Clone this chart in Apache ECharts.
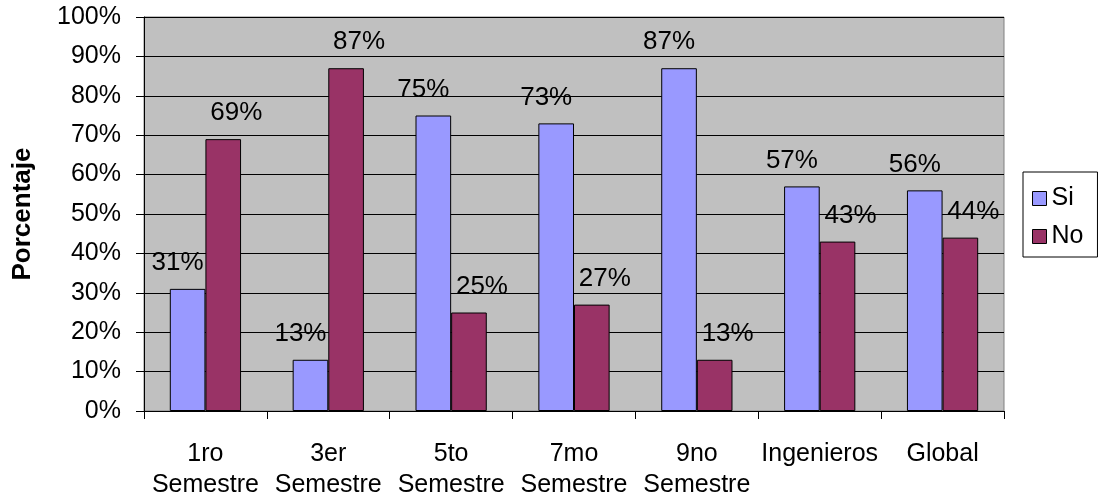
<!DOCTYPE html>
<html>
<head>
<meta charset="utf-8">
<script src="https://cdn.jsdelivr.net/npm/echarts@6/dist/echarts.min.js"></script>
<style>
  html, body { margin: 0; padding: 0; background: #ffffff; }
  #chart { width: 1099px; height: 502px; }
</style>
</head>
<body>
<div id="chart"></div>
<script>
// Survey answers per semester group, in percent
const categories = ['1ro\nSemestre', '3er\nSemestre', '5to\nSemestre', '7mo\nSemestre', '9no\nSemestre', 'Ingenieros', 'Global'];
const siValues = [31, 13, 75, 73, 87, 57, 56];
const noValues = [69, 87, 25, 27, 13, 43, 44];
const seriesNames = ['Si', 'No'];

const FONT = '"Liberation Sans", Arial, sans-serif';

const chart = echarts.init(document.getElementById('chart'), null, { renderer: 'canvas' });

const labelStyle = (dx) => ({
  show: true,
  position: 'top',
  distance: 13,
  offset: [dx, 0],
  formatter: (p) => p.value + '%',
  fontFamily: FONT,
  fontSize: 26,
  color: '#000000'
});

chart.setOption({
  animation: false,
  backgroundColor: '#ffffff',
  textStyle: { fontFamily: FONT },
  grid: {
    left: 144, right: 95, top: 17, bottom: 91,
    show: true,
    backgroundColor: '#c0c0c0',
    borderColor: '#808080',
    borderWidth: 1
  },
  legend: {
    orient: 'vertical',
    left: 1023, top: 172,
    width: 75,
    padding: [14, 14, 8, 9],
    itemGap: 13,
    itemWidth: 14, itemHeight: 14,
    borderColor: '#000000', borderWidth: 1,
    backgroundColor: '#ffffff',
    icon: 'rect',
    itemStyle: { borderColor: '#000000', borderWidth: 1 },
    textStyle: { fontFamily: FONT, fontSize: 25, color: '#000000', padding: [0, 0, 0, 0] },
    data: seriesNames
  },
  xAxis: {
    type: 'category',
    data: categories,
    boundaryGap: true,
    axisLine: { show: true, lineStyle: { color: '#000000', width: 1 } },
    axisTick: { show: true, length: 8, lineStyle: { color: '#000000' } },
    axisLabel: {
      fontFamily: FONT, fontSize: 25, color: '#000000',
      margin: 28, lineHeight: 31, verticalAlign: 'top', interval: 0
    }
  },
  yAxis: {
    type: 'value',
    min: 0, max: 100, interval: 10,
    name: 'Porcentaje',
    nameLocation: 'middle',
    nameGap: 108,
    nameTextStyle: { fontFamily: FONT, fontSize: 26, fontWeight: 'bold', color: '#000000' },
    axisLine: { show: true, lineStyle: { color: '#000000', width: 1 } },
    axisTick: { show: true, length: 8, lineStyle: { color: '#000000' } },
    axisLabel: {
      fontFamily: FONT, fontSize: 25, color: '#000000', margin: 23,
      formatter: '{value}%'
    },
    splitLine: { show: true, lineStyle: { color: '#000000', width: 1 } }
  },
  series: [
    {
      name: seriesNames[0],
      type: 'bar',
      data: siValues,
      barGap: '0%',
      barCategoryGap: '42%',
      itemStyle: { color: '#9999ff', borderColor: '#000000', borderWidth: 1 },
      label: labelStyle(-10)
    },
    {
      name: seriesNames[1],
      type: 'bar',
      data: noValues,
      barGap: '0%',
      barCategoryGap: '42%',
      itemStyle: { color: '#993366', borderColor: '#000000', borderWidth: 1 },
      label: labelStyle(13)
    }
  ]
});
</script>
</body>
</html>
